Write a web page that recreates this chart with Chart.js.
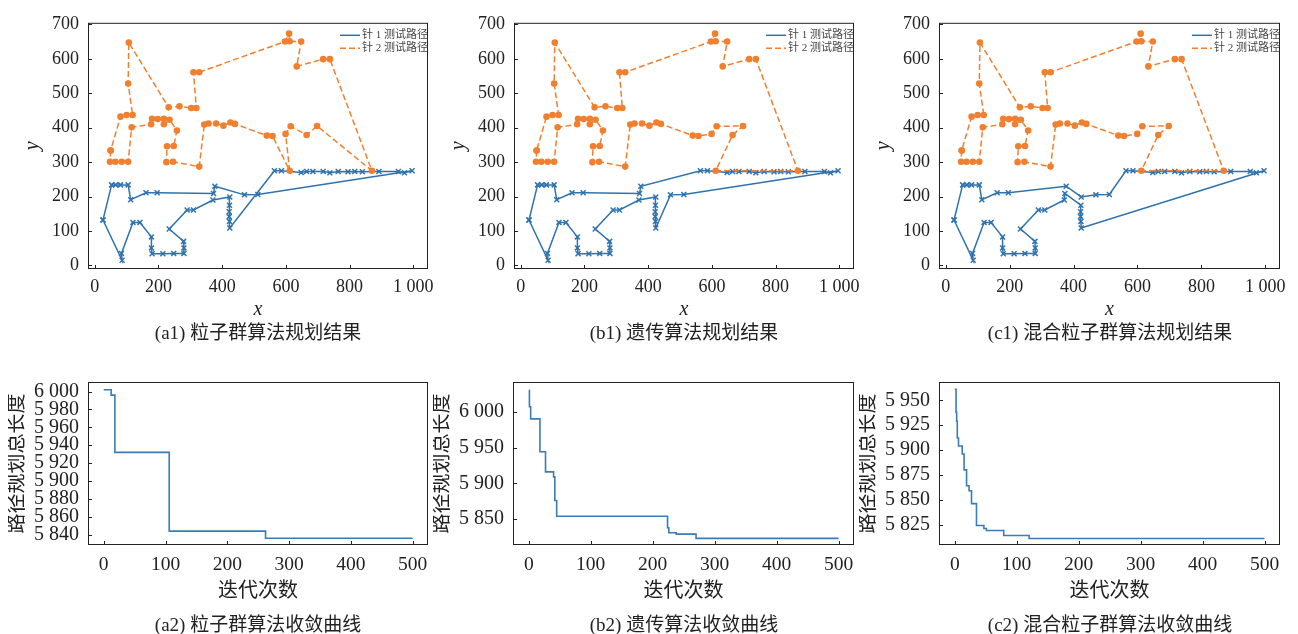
<!DOCTYPE html>
<html lang="zh">
<head>
<meta charset="utf-8">
<title>针测试路径规划结果与收敛曲线</title>
<script src="https://cdn.jsdelivr.net/npm/chart.js@4.4.1/dist/chart.umd.min.js"></script>
<style>
  body { margin: 0; background: #fff; }
  #page { position: relative; width: 1298px; height: 634px; overflow: hidden; background: #fff; }
  canvas { position: absolute; }
  .cap {
    position: absolute;
    font: 19px "Liberation Serif", "Noto Sans CJK SC", serif;
    color: #222;
    white-space: nowrap;
    transform: translate(-50%, -50%);
  }
</style>
</head>
<body>
<div id="page">
  <canvas id="a1"></canvas>
  <canvas id="b1"></canvas>
  <canvas id="c1"></canvas>
  <canvas id="a2"></canvas>
  <canvas id="b2"></canvas>
  <canvas id="c2"></canvas>
  <div class="cap" style="left:258px;top:330px">(a1) 粒子群算法规划结果</div>
  <div class="cap" style="left:684px;top:330px">(b1) 遗传算法规划结果</div>
  <div class="cap" style="left:1110px;top:330px">(c1) 混合粒子群算法规划结果</div>
  <div class="cap" style="left:258px;top:622px">(a2) 粒子群算法收敛曲线</div>
  <div class="cap" style="left:684px;top:622px">(b2) 遗传算法收敛曲线</div>
  <div class="cap" style="left:1110px;top:622px">(c2) 混合粒子群算法收敛曲线</div>
</div>
<script>
// 针 1 测试点坐标
const pin1X = [26, 53, 66, 81, 105, 113, 161, 196, 373, 377, 470, 512, 996, 972, 953, 892, 840, 816, 795, 764,
  738, 717, 685, 665, 648, 586, 564, 424, 423, 422, 422, 423, 424, 371, 310, 290, 234, 279, 280, 280,
  248, 214, 180, 178, 178, 142, 120, 84, 86];
const pin1Y = [132, 234, 234, 234, 234, 191, 211, 211, 209, 230, 205, 206, 275, 269, 273, 273, 272, 273, 272, 273,
  269, 273, 273, 273, 270, 275, 275, 109, 128, 142, 156, 175, 199, 190, 161, 161, 106, 70, 51, 35,
  35, 34, 34, 51, 83, 125, 125, 35, 15];

// 针 2 测试点坐标
const pin2X = [50, 48, 65, 85, 105, 116, 177, 180, 198, 217, 217, 235, 258, 248, 227, 225, 246, 328, 344, 357,
  381, 404, 426, 440, 540, 558, 612, 599, 615, 665, 698, 870, 738, 717, 634, 648, 612, 610, 597, 328,
  310, 319, 303, 266, 232, 107, 105, 119, 100, 81];
const pin2Y = [334, 301, 301, 301, 301, 401, 410, 426, 425, 426, 410, 423, 392, 347, 346, 300, 301, 287, 409, 412,
  412, 406, 415, 411, 377, 376, 275, 382, 404, 379, 405, 275, 599, 599, 578, 650, 651, 673, 650, 561,
  561, 457, 457, 462, 459, 647, 528, 437, 437, 432];

// 各算法的访问顺序（点序号）
const psoPin1 = [0, 1, 2, 3, 4, 5, 6, 7, 8, 9, 10, 11, 12, 13, 14, 15, 16, 17, 18, 19, 20, 21, 22, 23, 24, 25,
  26, 27, 28, 29, 30, 31, 32, 33, 34, 35, 36, 37, 38, 39, 40, 41, 42, 43, 44, 45, 46, 47, 48, 0];
const gaPin1 = [0, 1, 2, 3, 4, 5, 6, 7, 8, 9, 26, 25, 24, 23, 22, 21, 20, 19, 18, 17, 16, 15, 14, 13, 12, 11,
  10, 27, 28, 29, 30, 31, 32, 33, 34, 35, 36, 37, 38, 39, 40, 41, 42, 43, 44, 45, 46, 47, 48, 0];
const hybPin1 = [0, 1, 2, 3, 4, 5, 6, 7, 9, 32, 10, 11, 26, 25, 24, 23, 22, 21, 20, 19, 18, 17, 16, 15, 14, 13,
  12, 27, 28, 29, 30, 31, 8, 33, 34, 35, 36, 37, 38, 39, 40, 41, 42, 43, 44, 45, 46, 47, 48, 0];

const psoPin2 = [0, 1, 2, 3, 4, 5, 6, 7, 8, 9, 10, 11, 12, 13, 14, 15, 16, 17, 18, 19, 20, 21, 22, 23, 24, 25,
  26, 27, 28, 29, 30, 31, 32, 33, 34, 35, 36, 37, 38, 39, 40, 41, 42, 43, 44, 45, 46, 47, 48, 49, 0];
const gaPin2 = [0, 1, 2, 3, 4, 5, 6, 7, 8, 9, 10, 11, 12, 13, 14, 15, 16, 17, 18, 19, 20, 21, 22, 23, 24, 25,
  27, 28, 30, 29, 26, 31, 32, 33, 34, 35, 36, 37, 38, 39, 40, 41, 42, 43, 44, 45, 46, 47, 48, 49, 0];
const hybPin2 = [0, 1, 2, 3, 4, 5, 6, 7, 8, 9, 10, 11, 12, 13, 14, 15, 16, 17, 18, 19, 20, 21, 22, 23, 24, 25,
  27, 28, 30, 29, 26, 31, 32, 33, 34, 35, 36, 37, 38, 39, 40, 41, 42, 43, 44, 45, 46, 47, 48, 49, 0];

// 收敛曲线（迭代次数, 路径规划总长度）—— 只记录变化点
const psoIter = [0, 12, 18, 106, 262, 500];
const psoLen = [6002, 5996, 5932, 5844, 5836, 5836];
const gaIter = [0, 1, 3, 18, 27, 40, 42, 45, 224, 226, 238, 270, 500];
const gaLen = [6030, 6007, 5990, 5944, 5916, 5909, 5876, 5854, 5838, 5831, 5829, 5823, 5823];
const hybIter = [0, 2, 3, 4, 6, 12, 15, 19, 23, 27, 35, 47, 51, 79, 120, 500];
const hybLen = [5961, 5938, 5929, 5912, 5904, 5896, 5880, 5864, 5859, 5846, 5824, 5821, 5819, 5814, 5811, 5811];

// 刻度
const pathXTicks = [0, 200, 400, 600, 800, 1000];
const pathYTicks = [0, 100, 200, 300, 400, 500, 600, 700];
const iterTicks = [0, 100, 200, 300, 400, 500];
const psoYTicks = [5840, 5860, 5880, 5900, 5920, 5940, 5960, 5980, 6000];
const gaYTicks = [5850, 5900, 5950, 6000];
const hybYTicks = [5825, 5850, 5875, 5900, 5925, 5950];

const BLUE = "#2e73ae";
const ORANGE = "#f0802f";
const SERIF = '"Liberation Serif", "Noto Sans CJK SC", serif';

function fmt(v) {
  return String(v).replace(/\B(?=(\d{3})+$)/g, " ");
}

// 边框 + 向内的刻度线
const frameTicks = {
  id: "frameTicks",
  afterDraw(chart) {
    const { ctx, chartArea: a, scales } = chart;
    ctx.save();
    ctx.strokeStyle = "#222";
    ctx.lineWidth = 1;
    ctx.strokeRect(a.left + 0.5, a.top + 0.5, a.right - a.left - 1, a.bottom - a.top - 1);
    ctx.beginPath();
    scales.x.ticks.forEach((t) => {
      const px = Math.round(scales.x.getPixelForValue(t.value)) + 0.5;
      ctx.moveTo(px, a.bottom);
      ctx.lineTo(px, a.bottom - 4);
    });
    scales.y.ticks.forEach((t) => {
      const py = Math.round(scales.y.getPixelForValue(t.value)) + 0.5;
      ctx.moveTo(a.left, py);
      ctx.lineTo(a.left + 4, py);
    });
    ctx.stroke();
    ctx.restore();
  },
};

// 图内右上角图例
const pathLegend = {
  id: "pathLegend",
  afterDraw(chart, args, opts) {
    if (!opts.show) return;
    const { ctx, chartArea: a } = chart;
    ctx.save();
    chart.data.datasets.forEach((ds, i) => {
      const y = a.top + 12.5 + i * 13;
      ctx.strokeStyle = ds.borderColor;
      ctx.lineWidth = 1.5;
      ctx.setLineDash(ds.borderDash || []);
      ctx.beginPath();
      ctx.moveTo(a.right - 88, y);
      ctx.lineTo(a.right - 68, y);
      ctx.stroke();
      ctx.setLineDash([]);
      ctx.fillStyle = "#444";
      ctx.font = '11px ' + SERIF;
      ctx.textBaseline = "middle";
      ctx.textAlign = "left";
      ctx.fillText(ds.label, a.right - 66, y);
    });
    ctx.restore();
  },
};

function pathSets(t1, t2) {
  return [
    {
      label: "针 1 测试路径",
      data: t1.map((i) => ({ x: pin1X[i], y: pin1Y[i] })),
      showLine: true,
      borderColor: BLUE,
      borderWidth: 1.5,
      pointStyle: "crossRot",
      pointRadius: 3.5,
      pointBorderWidth: 1.5,
      pointBorderColor: BLUE,
      pointBackgroundColor: BLUE,
      order: 2,
    },
    {
      label: "针 2 测试路径",
      data: t2.map((i) => ({ x: pin2X[i], y: pin2Y[i] })),
      showLine: true,
      borderColor: ORANGE,
      borderWidth: 1.5,
      borderDash: [6, 3],
      pointStyle: "circle",
      pointRadius: 3.3,
      pointBorderWidth: 0,
      pointBorderColor: ORANGE,
      pointBackgroundColor: ORANGE,
      order: 1,
    },
  ];
}

function curveSet(iters, lens) {
  return [
    {
      label: "路径规划总长度",
      data: iters.map((x, i) => ({ x, y: lens[i] })),
      showLine: true,
      stepped: true,
      borderColor: "#3a7db6",
      borderWidth: 1.6,
      pointRadius: 0,
    },
  ];
}

function makeChart(id, rect, datasets, xs, ys, o) {
  const pad = { l: 80, t: 14, r: 30, b: 70 };
  const cv = document.getElementById(id);
  cv.width = rect.R - rect.L + pad.l + pad.r;
  cv.height = rect.B - rect.T + pad.t + pad.b;
  cv.style.left = rect.L - pad.l + "px";
  cv.style.top = rect.T - pad.t + "px";

  return new Chart(cv, {
    type: "scatter",
    data: { datasets },
    options: {
      responsive: false,
      animation: false,
      devicePixelRatio: 1,
      layout: { padding: { left: 0, top: pad.t, right: pad.r, bottom: 0 } },
      plugins: {
        legend: { display: false },
        tooltip: { enabled: false },
        pathLegend: { show: !!o.legend },
      },
      scales: {
        x: {
          type: "linear",
          min: xs.min,
          max: xs.max,
          afterFit: (s) => { s.height = pad.b; },
          afterBuildTicks: (s) => { s.ticks = xs.ticks.map((v) => ({ value: v })); },
          grid: { display: false, drawTicks: false },
          border: { display: false },
          ticks: {
            font: { family: SERIF, size: o.xfs }, color: "#222", padding: o.xtickPad,
            maxRotation: 0, autoSkip: false, callback: (v) => fmt(v),
          },
          title: {
            display: true,
            text: o.xTitle,
            color: "#222",
            font: { family: SERIF, size: 20, style: o.italic ? "italic" : "normal", lineHeight: 1 },
            padding: { top: 0, bottom: o.xtPad },
          },
        },
        y: {
          type: "linear",
          min: ys.min,
          max: ys.max,
          afterFit: (s) => { s.width = pad.l; },
          afterBuildTicks: (s) => { s.ticks = ys.ticks.map((v) => ({ value: v })); },
          grid: { display: false, drawTicks: false },
          border: { display: false },
          ticks: {
            font: { family: SERIF, size: o.yfs }, color: "#222", padding: 9,
            autoSkip: false, callback: (v) => fmt(v),
          },
          title: {
            display: true,
            text: o.yTitle,
            color: "#222",
            font: { family: SERIF, size: 20, style: o.italic ? "italic" : "normal", lineHeight: 1 },
            padding: { top: o.ytPad, bottom: 0 },
          },
        },
      },
    },
    plugins: [frameTicks, pathLegend],
  });
}

const pathX = { min: -21, max: 1046, ticks: pathXTicks };
const pathY = { min: -10.2, max: 704.5, ticks: pathYTicks };
const topOpts = {
  xfs: 18, yfs: 18, xtickPad: 7, xTitle: "x", yTitle: "y", italic: true, xtPad: 19, ytPad: 15, legend: true,
};

makeChart("a1", { L: 88, R: 428, T: 17, B: 269 }, pathSets(psoPin1, psoPin2), pathX, pathY, topOpts);
makeChart("b1", { L: 514, R: 854, T: 17, B: 269 }, pathSets(gaPin1, gaPin2), pathX, pathY, topOpts);
makeChart("c1", { L: 939, R: 1280, T: 17, B: 269 }, pathSets(hybPin1, hybPin2), pathX, pathY, topOpts);

const iterX = { min: -25.5, max: 525, ticks: iterTicks };
const botOpts = {
  xfs: 19.5, yfs: 20, xtickPad: 8, xTitle: "迭代次数", yTitle: "路径规划总长度", italic: false, xtPad: 13, ytPad: 0,
};

makeChart("a2", { L: 88, R: 428, T: 375, B: 545 }, curveSet(psoIter, psoLen), iterX,
  { min: 5828.5, max: 6010.7, ticks: psoYTicks }, botOpts);
makeChart("b2", { L: 513, R: 854, T: 375, B: 545 }, curveSet(gaIter, gaLen), iterX,
  { min: 5813.8, max: 6041.5, ticks: gaYTicks }, botOpts);
makeChart("c2", { L: 939, R: 1280, T: 375, B: 545 }, curveSet(hybIter, hybLen), iterX,
  { min: 5804.4, max: 5968.4, ticks: hybYTicks }, botOpts);
</script>
</body>
</html>
